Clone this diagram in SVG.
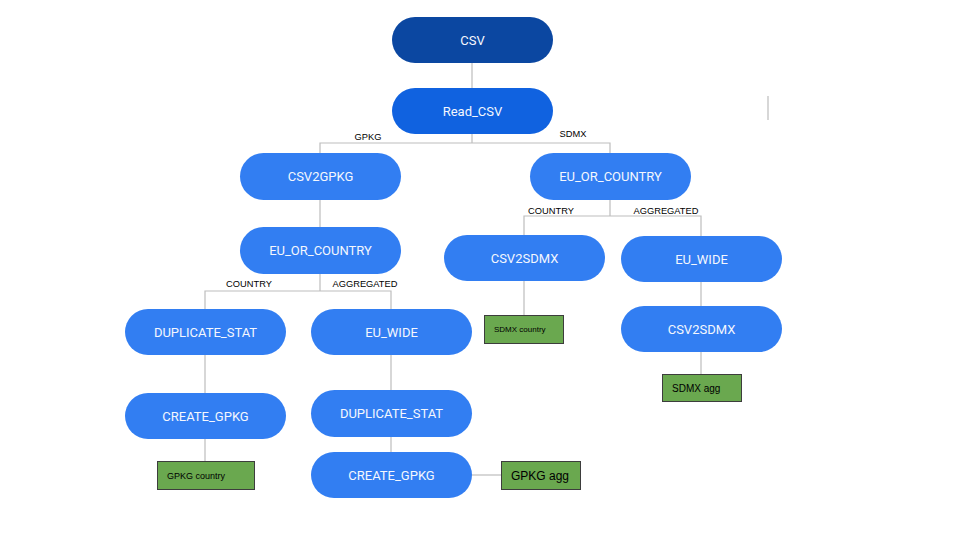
<svg xmlns="http://www.w3.org/2000/svg" width="960" height="540" viewBox="0 0 960 540">
<style>
.n{fill:#327ef2;}
.t{font-family:Roboto,"Liberation Sans",sans-serif;font-size:13px;fill:#f4f7fe;text-anchor:middle;dominant-baseline:central;}
.c{fill:none;stroke:#bdbdbd;stroke-width:1.2;}
.l{font-family:"Liberation Sans",Arial,sans-serif;font-size:9.3px;fill:#000;}
.b{fill:#6aa84f;stroke:#3d3d3d;stroke-width:1;}
.bt{font-family:"Liberation Sans",Arial,sans-serif;fill:#000;dominant-baseline:central;}
</style>
<rect width="960" height="540" fill="#ffffff"/>
<g id="connectors">
<path class="c" d="M472 63V88"/>
<path class="c" d="M472 134V143H320V153M472 143H610V153"/>
<path class="c" d="M320 200V227"/>
<path class="c" d="M320 274V291H205V309M320 291H391V309"/>
<path class="c" d="M205 355V393"/>
<path class="c" d="M205 439V461"/>
<path class="c" d="M391 355V390"/>
<path class="c" d="M391 437V452"/>
<path class="c" d="M472 475H501"/>
<path class="c" d="M610 200V216H524V235M610 216H701V236"/>
<path class="c" d="M524 281V315"/>
<path class="c" d="M701 282V306"/>
<path class="c" d="M701 352V374"/>
<path class="c" d="M768 96V120"/>
<text class="l" x="368" y="140" text-anchor="middle">GPKG</text>
<text class="l" x="573" y="137" text-anchor="middle">SDMX</text>
<text class="l" x="249" y="287" text-anchor="middle">COUNTRY</text>
<text class="l" x="365" y="287" text-anchor="middle">AGGREGATED</text>
<text class="l" x="551" y="214" text-anchor="middle">COUNTRY</text>
<text class="l" x="666" y="214" text-anchor="middle">AGGREGATED</text>
</g>
<g id="csv"><rect x="392" y="17" width="161" height="46" rx="23" fill="#0b47a1"/><text class="t" x="472.5" y="40">CSV</text></g>
<g id="read_csv"><rect x="392" y="88" width="161" height="46" rx="23" fill="#1062e0"/><text class="t" x="472.5" y="111">Read_CSV</text></g>
<g id="csv2gpkg"><rect class="n" x="240" y="153" width="161" height="47" rx="23.5"/><text class="t" x="320.5" y="176.5">CSV2GPKG</text></g>
<g id="eu_or_country_sdmx"><rect class="n" x="530" y="153" width="161" height="47" rx="23.5"/><text class="t" x="610.5" y="176.5">EU_OR_COUNTRY</text></g>
<g id="eu_or_country_gpkg"><rect class="n" x="240" y="227" width="161" height="47" rx="23.5"/><text class="t" x="320.5" y="250.5">EU_OR_COUNTRY</text></g>
<g id="duplicate_stat_country"><rect class="n" x="125" y="309" width="161" height="46" rx="23"/><text class="t" x="205.5" y="332">DUPLICATE_STAT</text></g>
<g id="eu_wide_gpkg"><rect class="n" x="311" y="309" width="161" height="46" rx="23"/><text class="t" x="391.5" y="332">EU_WIDE</text></g>
<g id="create_gpkg_country"><rect class="n" x="125" y="393" width="161" height="46" rx="23"/><text class="t" x="205.5" y="416">CREATE_GPKG</text></g>
<g id="duplicate_stat_agg"><rect class="n" x="311" y="390" width="161" height="47" rx="23.5"/><text class="t" x="391.5" y="413.5">DUPLICATE_STAT</text></g>
<g id="create_gpkg_agg"><rect class="n" x="311" y="452" width="161" height="46" rx="23"/><text class="t" x="391.5" y="475">CREATE_GPKG</text></g>
<g id="csv2sdmx_country"><rect class="n" x="444" y="235" width="161" height="46" rx="23"/><text class="t" x="524.5" y="258">CSV2SDMX</text></g>
<g id="eu_wide_sdmx"><rect class="n" x="621" y="236" width="161" height="46" rx="23"/><text class="t" x="701.5" y="259">EU_WIDE</text></g>
<g id="csv2sdmx_agg"><rect class="n" x="621" y="306" width="161" height="46" rx="23"/><text class="t" x="701.5" y="329">CSV2SDMX</text></g>
<g id="gpkg_country"><rect class="b" x="157.5" y="461.5" width="97" height="28"/><text class="bt" x="167" y="476" font-size="9">GPKG country</text></g>
<g id="gpkg_agg"><rect class="b" x="501.5" y="461.5" width="79" height="28"/><text class="bt" x="511" y="476" font-size="12">GPKG agg</text></g>
<g id="sdmx_country"><rect class="b" x="484.5" y="315.5" width="79" height="28"/><text class="bt" x="494" y="329.5" font-size="8">SDMX country</text></g>
<g id="sdmx_agg"><rect class="b" x="662.5" y="374.5" width="79" height="27"/><text class="bt" x="672" y="388" font-size="10">SDMX agg</text></g>
</svg>
